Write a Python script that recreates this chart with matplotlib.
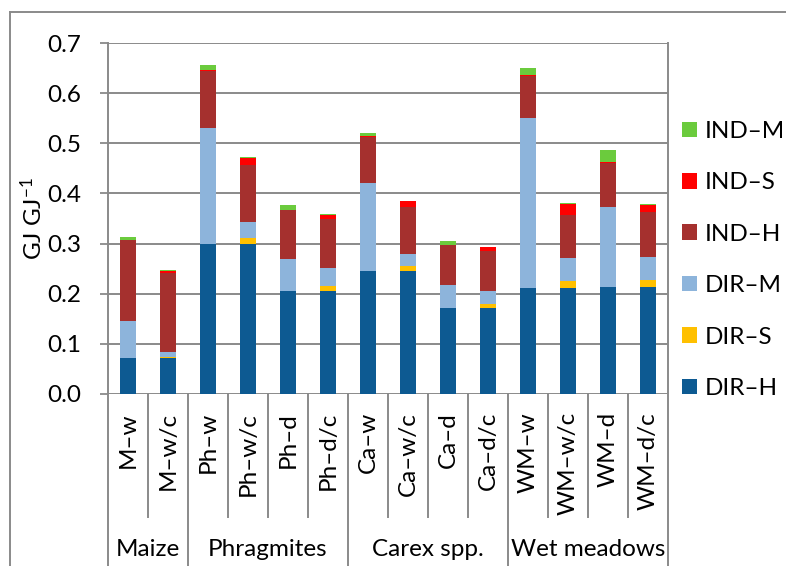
import matplotlib
matplotlib.use("Agg")
import matplotlib.pyplot as plt
import numpy as np
from matplotlib.lines import Line2D
from matplotlib.patches import Patch

plt.rcParams['font.family'] = ['Lato', 'DejaVu Sans']
plt.rcParams['mathtext.default'] = 'regular'

categories = ["M\u2013w", "M\u2013w/c", "Ph\u2013w", "Ph\u2013w/c", "Ph\u2013d", "Ph\u2013d/c",
              "Ca\u2013w", "Ca\u2013w/c", "Ca\u2013d", "Ca\u2013d/c",
              "WM\u2013w", "WM\u2013w/c", "WM\u2013d", "WM\u2013d/c"]
groups = ["Maize", "Phragmites", "Carex spp.", "Wet meadows"]
group_sizes = [2, 4, 4, 4]

dir_h = [0.071, 0.071, 0.300, 0.300, 0.205, 0.205, 0.246, 0.246, 0.171, 0.171, 0.211, 0.211, 0.213, 0.213]
dir_s = [0.000, 0.002, 0.000, 0.011, 0.000, 0.010, 0.000, 0.009, 0.000, 0.009, 0.000, 0.014, 0.000, 0.014]
dir_m = [0.075, 0.010, 0.231, 0.032, 0.064, 0.037, 0.174, 0.024, 0.046, 0.026, 0.339, 0.046, 0.160, 0.046]
ind_h = [0.161, 0.159, 0.114, 0.113, 0.097, 0.097, 0.093, 0.094, 0.080, 0.079, 0.085, 0.086, 0.088, 0.089]
ind_s = [0.001, 0.004, 0.001, 0.015, 0.001, 0.008, 0.001, 0.011, 0.001, 0.008, 0.001, 0.022, 0.001, 0.015]
ind_m = [0.006, 0.001, 0.011, 0.002, 0.010, 0.001, 0.006, 0.001, 0.007, 0.001, 0.015, 0.001, 0.025, 0.001]

series_names = ["DIR\u2013H", "DIR\u2013S", "DIR\u2013M", "IND\u2013H", "IND\u2013S", "IND\u2013M"]
series_values = [dir_h, dir_s, dir_m, ind_h, ind_s, ind_m]
series_colors = ["#0D5A92", "#FFC000", "#8DB4DB", "#A5302E", "#FF0000", "#6BCB3D"]

yticks = [0.0, 0.1, 0.2, 0.3, 0.4, 0.5, 0.6, 0.7]
ylabel = "GJ GJ$^{-1}$"

W, H = 786, 566
fig = plt.figure(figsize=(W / 100, H / 100), dpi=100)
ax_l, ax_r, ax_t, ax_b = 108, 668, 43, 394
ax = fig.add_axes([ax_l / W, 1 - ax_b / H, (ax_r - ax_l) / W, (ax_b - ax_t) / H])

grey = "#8A8A8A"
fs = 17.5

x = np.arange(len(categories))
bottom = np.zeros(len(categories))
handles = []
for name, vals, col in zip(series_names, series_values, series_colors):
    vals = np.asarray(vals)
    ax.bar(x, vals, width=0.385, bottom=bottom, color=col, zorder=3, linewidth=0)
    bottom += vals
    handles.append(Patch(facecolor=col, edgecolor='none', label=name))

ax.set_xlim(-0.5, len(categories) - 0.5)
ax.set_ylim(0, 0.7)
ax.set_yticks(yticks)
ax.set_yticklabels([f"{v:.1f}" for v in yticks], fontsize=fs)
ax.tick_params(axis='y', length=6, width=1.3, color=grey, pad=13)
ax.set_xticks([])
ax.yaxis.grid(True, color=grey, linewidth=1.4, zorder=0)
for s in ax.spines.values():
    s.set_visible(False)

ax_h = ax_b - ax_t
fig_bottom = -(H - ax_b) / ax_h
sep_bottom = -(517 - ax_b) / ax_h

# category separators below the axis
edges = set(np.cumsum([0] + group_sizes).tolist())
for k in range(len(categories) + 1):
    xb = k - 0.5
    y0 = fig_bottom if k in edges else sep_bottom
    top = 1.0 if k in (0, len(categories)) else 0.0
    ax.plot([xb, xb], [y0, top], color=grey, linewidth=1.4,
            transform=ax.get_xaxis_transform(), clip_on=False, zorder=4)

# category labels
lab_top = -(412 - ax_b) / ax_h
for xi, lab in zip(x, categories):
    ax.text(xi, lab_top, lab, rotation=90, ha='center', va='top', fontsize=fs,
            transform=ax.get_xaxis_transform())

# group labels
grp_y = -(550 - ax_b) / ax_h
start = 0
for g, n in zip(groups, group_sizes):
    cx = start + (n - 1) / 2
    ax.text(cx, grp_y, g, ha='center', va='center', fontsize=fs,
            transform=ax.get_xaxis_transform())
    start += n

ax.text(-0.135, 0.5, ylabel, rotation=90, ha='center', va='center', fontsize=fs,
        transform=ax.transAxes)

# outer chart-area border
fig.add_artist(Line2D([10 / W, 1.0], [1 - 12 / H, 1 - 12 / H], color=grey, linewidth=1.4))
fig.add_artist(Line2D([10 / W, 10 / W], [0.0, 1 - 12 / H], color=grey, linewidth=1.4))

leg = fig.legend(handles=handles[::-1], loc='upper left',
                 bbox_to_anchor=(682 / W, 1 - 121 / H), frameon=False, fontsize=fs,
                 handlelength=0.6, handleheight=0.6, handletextpad=0.35,
                 labelspacing=1.25, borderaxespad=0, borderpad=0)

fig.savefig("out.png", dpi=100)
